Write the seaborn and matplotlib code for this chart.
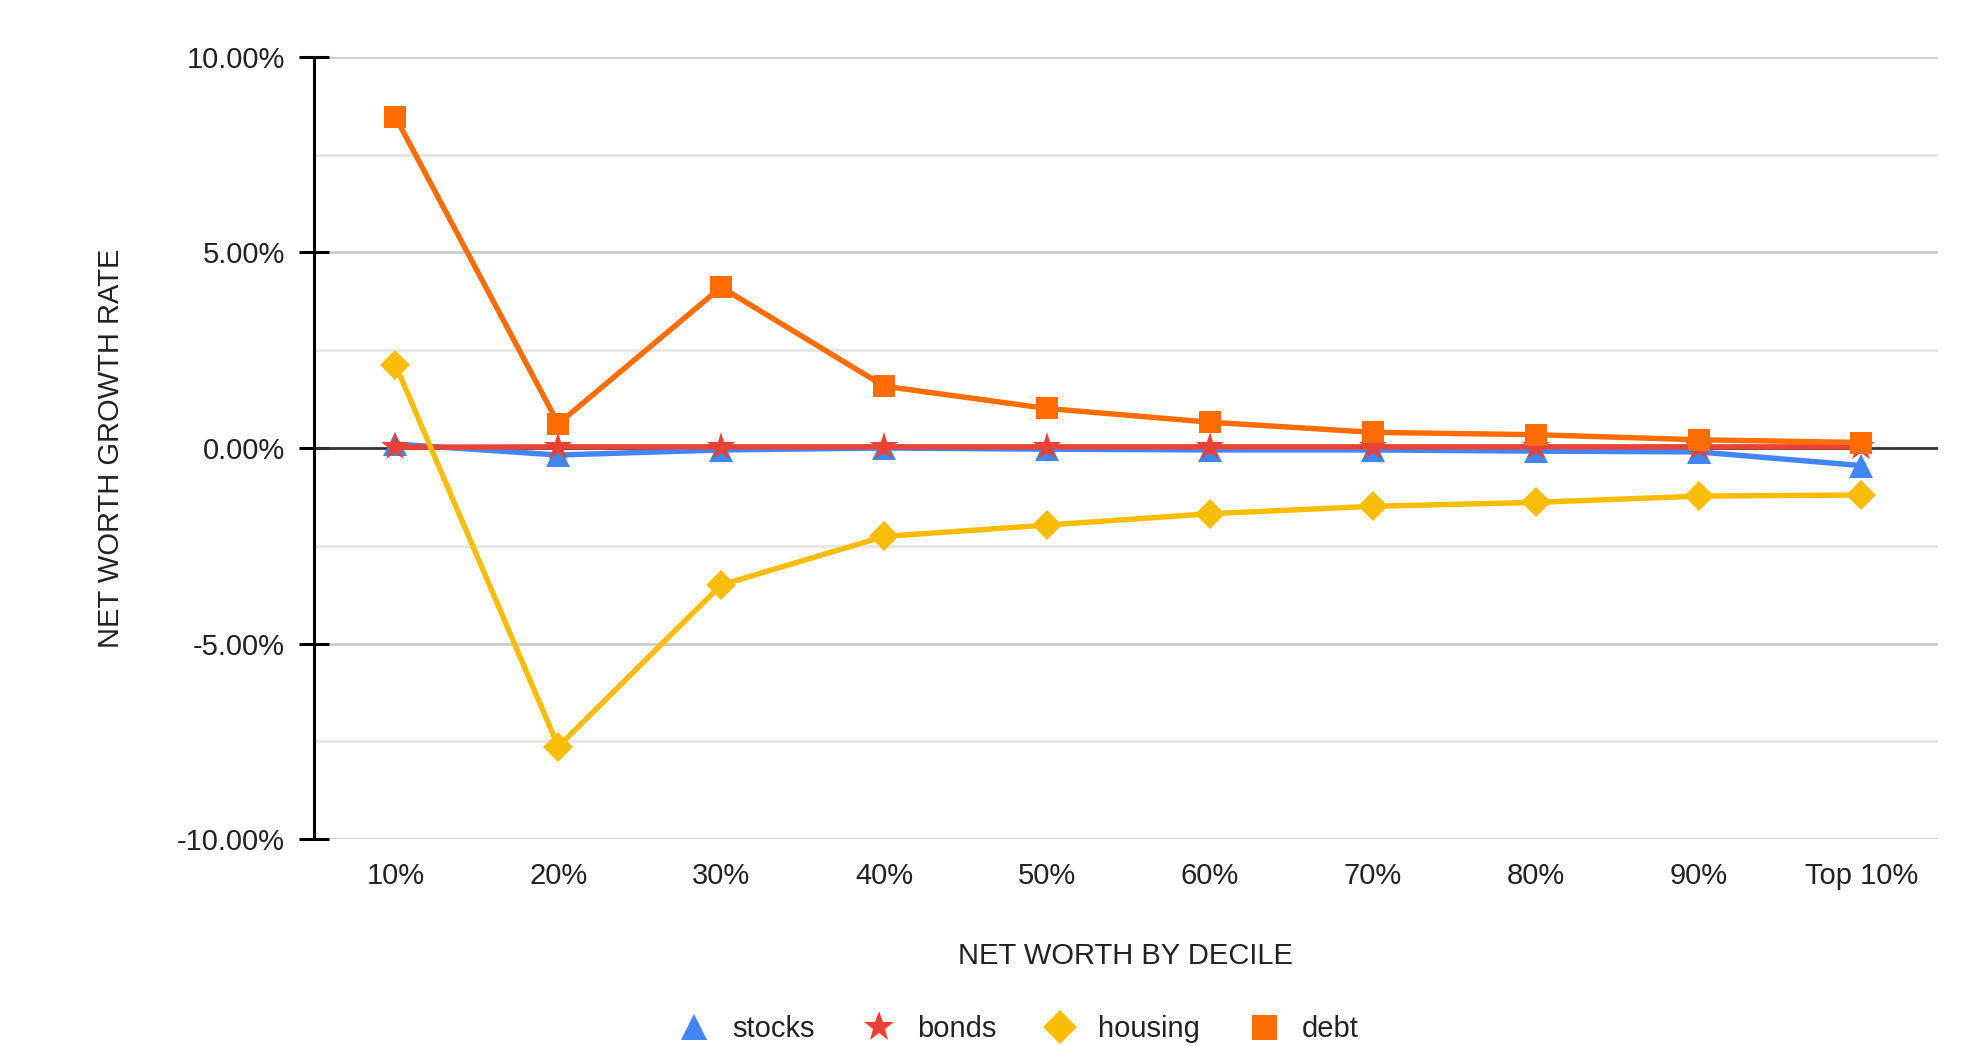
import matplotlib
matplotlib.use("Agg")
import matplotlib.pyplot as plt
from matplotlib.lines import Line2D
from matplotlib.ticker import FuncFormatter, MultipleLocator
import seaborn as sns
import pandas as pd

deciles = ["10%", "20%", "30%", "40%", "50%", "60%", "70%", "80%", "90%", "Top 10%"]
stocks = [0.10, -0.18, -0.05, 0.00, -0.03, -0.05, -0.05, -0.08, -0.10, -0.45]
bonds = [0.02, 0.03, 0.03, 0.03, 0.03, 0.03, 0.03, 0.03, 0.03, 0.03]
housing = [2.13, -7.63, -3.50, -2.26, -1.97, -1.68, -1.49, -1.39, -1.23, -1.20]
debt = [8.46, 0.62, 4.11, 1.58, 1.01, 0.66, 0.40, 0.34, 0.21, 0.14]

series_names = ["stocks", "bonds", "housing", "debt"]
colors = {"stocks": "#4285F4", "bonds": "#EA4335", "housing": "#FBBC04", "debt": "#FF6D01"}
markers = {"stocks": "^", "bonds": "*", "housing": "D", "debt": "s"}
msizes = {"stocks": 17, "bonds": 21, "housing": 15, "debt": 16}

rows = []
for name, vals in zip(series_names, [stocks, bonds, housing, debt]):
    for i, (d, v) in enumerate(zip(deciles, vals)):
        rows.append({"pos": i, "decile": d, "series": name, "value": v})
df = pd.DataFrame(rows)

sns.set_theme(style="white")
plt.rcParams["font.family"] = ["Liberation Sans", "DejaVu Sans"]

W, H = 1963, 1046
fig = plt.figure(figsize=(W / 100, H / 100), dpi=100)
left, right, top, bottom = 314, 1938, 56.7, 839.3
ax = fig.add_axes([left / W, 1 - bottom / H, (right - left) / W, (bottom - top) / H])

# grid lines
for y in [7.5, 2.5, -2.5, -7.5]:
    ax.axhline(y, color="#e6e6e6", lw=2, zorder=0)
for y in [10, 5, -5, -10]:
    ax.axhline(y, color="#cccccc", lw=2, zorder=0)
ax.axhline(0, color="#333333", lw=2, zorder=1)

for name in series_names:
    sub = df[df["series"] == name]
    sns.lineplot(data=sub, x="pos", y="value", ax=ax, color=colors[name],
                 marker=markers[name], markersize=msizes[name], markeredgewidth=0,
                 linewidth=3.9, legend=False, zorder=3)

ax.set_xlim(-0.5, 9.47)
ax.set_ylim(-10, 10)
ax.set_xticks(range(len(deciles)))
ax.set_xticklabels(deciles)
ax.yaxis.set_major_locator(MultipleLocator(5))
ax.yaxis.set_major_formatter(FuncFormatter(lambda v, p: f"{v:.2f}%"))

for s in ["top", "right", "bottom"]:
    ax.spines[s].set_visible(False)
ax.spines["left"].set_color("black")
ax.spines["left"].set_linewidth(2.2)

ax.tick_params(axis="y", left=True, direction="inout", length=22, width=2.2, color="black",
               labelsize=21, pad=10, labelcolor="#222222")
ax.tick_params(axis="x", bottom=False, length=0, labelsize=21, pad=16, labelcolor="#222222")

ax.set_xlabel("NET WORTH BY DECILE", fontsize=21, labelpad=38, color="#222222")
ax.set_ylabel("NET WORTH GROWTH RATE", fontsize=21, labelpad=37, color="#222222")

handles = [Line2D([], [], linestyle="none", marker=markers[n], color=colors[n],
                  markersize=msizes[n] + 2, markeredgewidth=0) for n in series_names]
fig.legend(handles, series_names, loc="center", bbox_to_anchor=(1015 / W, 1 - 1029 / H),
           ncol=4, frameon=False, fontsize=21, handletextpad=0.5, columnspacing=1.4,
           handlelength=1.6, labelcolor="#222222")

fig.savefig("out.png", dpi=100, facecolor="white")
